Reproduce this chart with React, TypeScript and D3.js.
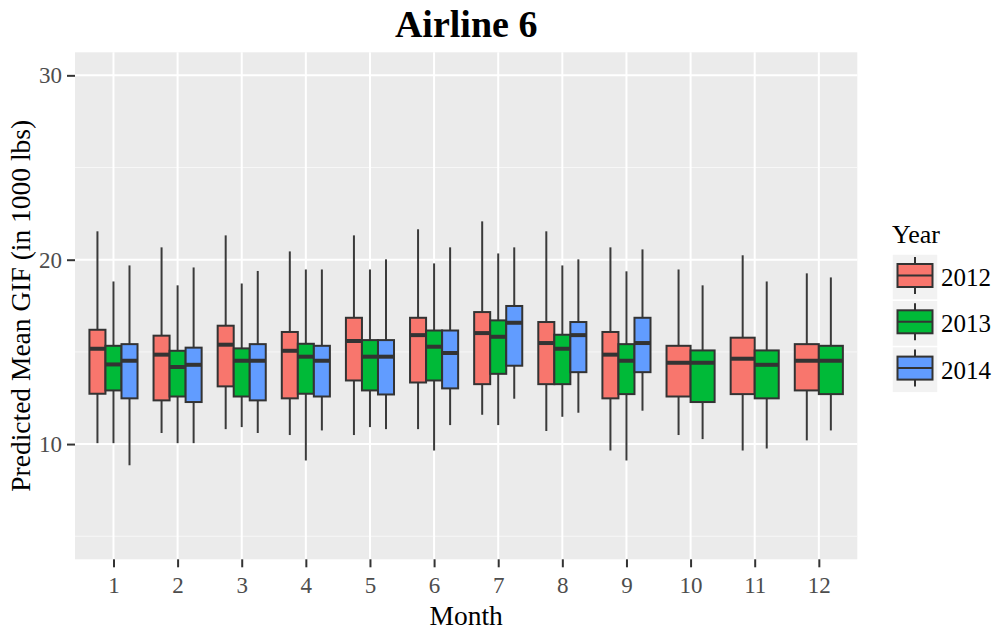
import React, { useEffect, useRef } from 'react';
import * as d3 from 'd3';

// month categories and year groups
const months = ['1', '2', '3', '4', '5', '6', '7', '8', '9', '10', '11', '12'];
const years = ['2012', '2013', '2014'];
const yearColors = ['#F8766D', '#00BA38', '#619CFF'];
const yTicks = [10, 20, 30];
const yMinorTicks = [5, 15, 25];

// [lower whisker, q1, median, q3, upper whisker] per month
const stats2012 = [
    [10.05, 12.73, 15.17, 16.2, 21.54],
    [10.6, 12.37, 14.85, 15.88, 20.67],
    [10.81, 13.13, 15.39, 16.42, 21.32],
    [10.49, 12.48, 15.06, 16.08, 20.45],
    [10.49, 13.45, 15.59, 16.85, 21.32],
    [10.81, 13.34, 15.91, 16.85, 21.65],
    [11.59, 13.25, 16.02, 17.16, 22.08],
    [10.71, 13.25, 15.48, 16.62, 21.54],
    [9.65, 12.48, 14.85, 16.08, 20.67],
    [10.49, 12.58, 14.41, 15.33, 19.47],
    [9.65, 12.71, 14.63, 15.77, 20.24],
    [10.2, 12.91, 14.52, 15.42, 19.26],
];
const stats2013 = [
    [10.05, 12.91, 14.32, 15.33, 18.82],
    [10.05, 12.58, 14.18, 15.06, 18.61],
    [10.92, 12.58, 14.52, 15.19, 18.71],
    [9.11, 12.73, 14.74, 15.44, 19.47],
    [10.92, 12.91, 14.74, 15.64, 19.47],
    [9.65, 13.45, 15.28, 16.16, 19.8],
    [11.03, 13.81, 15.82, 16.71, 20.34],
    [11.48, 13.25, 15.17, 15.93, 19.69],
    [9.11, 12.71, 14.52, 15.42, 19.37],
    [10.27, 12.28, 14.41, 15.08, 18.61],
    [9.76, 12.48, 14.3, 15.08, 18.82],
    [10.74, 12.71, 14.52, 15.33, 19.04],
];
// 2014 only has Jan-Sep
const stats2014 = [
    [8.85, 12.48, 14.52, 15.42, 19.69],
    [10.05, 12.28, 14.3, 15.23, 19.58],
    [10.6, 12.37, 14.52, 15.42, 19.39],
    [10.74, 12.58, 14.52, 15.33, 19.47],
    [10.81, 12.69, 14.74, 15.64, 20.02],
    [11.03, 13.02, 14.94, 16.16, 20.67],
    [12.46, 14.25, 16.58, 17.49, 20.67],
    [11.7, 13.9, 15.91, 16.62, 20.02],
    [11.81, 13.9, 15.48, 16.85, 20.56],
];

const FONT = '"Liberation Serif", "Times New Roman", serif';

export default function App() {
    const svgRef = useRef<SVGSVGElement>(null);

    useEffect(() => {
        document.body.style.margin = '0';
        const width = 996;
        const height = 633;
        const left = 75, right = 857.3, top = 52.3, bottom = 559.3;

        const svg = d3.select(svgRef.current)
            .attr('width', width)
            .attr('height', height);
        svg.selectAll('*').remove();

        const xScale = d3.scalePoint()
            .domain(months)
            .range([left, right])
            .padding(0.6);
        const step = xScale.step();

        const yScale = d3.scaleLinear()
            .domain([3.75, 31.25])
            .range([bottom, top]);

        // panel
        svg.append('rect')
            .attr('x', left).attr('y', top)
            .attr('width', right - left).attr('height', bottom - top)
            .attr('fill', '#EBEBEB');

        svg.append('g').selectAll('line')
            .data(yMinorTicks)
            .join('line')
            .attr('x1', left).attr('x2', right)
            .attr('y1', d => yScale(d)).attr('y2', d => yScale(d))
            .attr('stroke', '#F7F7F7').attr('stroke-width', 1);

        svg.append('g').selectAll('line')
            .data(yTicks)
            .join('line')
            .attr('x1', left).attr('x2', right)
            .attr('y1', d => yScale(d)).attr('y2', d => yScale(d))
            .attr('stroke', '#fff').attr('stroke-width', 2);

        svg.append('g').selectAll('line')
            .data(months)
            .join('line')
            .attr('x1', d => xScale(d)!).attr('x2', d => xScale(d)!)
            .attr('y1', top).attr('y2', bottom)
            .attr('stroke', '#fff').attr('stroke-width', 2);

        // axes
        const yAxis = svg.append('g')
            .attr('transform', `translate(${left},0)`)
            .call(d3.axisLeft(yScale).tickValues(yTicks).tickSize(8).tickPadding(5));
        yAxis.select('.domain').remove();
        yAxis.selectAll('line').attr('stroke', '#333').attr('stroke-width', 2);
        yAxis.selectAll('text')
            .attr('fill', '#4D4D4D')
            .style('font-family', FONT)
            .style('font-size', '23px');

        const xAxis = svg.append('g')
            .attr('transform', `translate(0,${bottom})`)
            .call(d3.axisBottom(xScale).tickSize(8).tickPadding(9));
        xAxis.select('.domain').remove();
        xAxis.selectAll('line').attr('stroke', '#333').attr('stroke-width', 2);
        xAxis.selectAll('text')
            .attr('fill', '#4D4D4D')
            .style('font-family', FONT)
            .style('font-size', '23px');

        // boxes, dodged by year
        const allStats = [stats2012, stats2013, stats2014];
        const boxes: any[] = [];
        months.forEach((m, mi) => {
            const present = allStats.map((s, yi) => ({ s: s[mi], yi })).filter(d => d.s);
            const bw = (step * 0.75) / present.length;
            present.forEach((d, k) => {
                const cx = xScale(m)! - step * 0.375 + (k + 0.5) * bw;
                boxes.push({ cx, bw, v: d.s, color: yearColors[d.yi] });
            });
        });

        const g = svg.append('g');
        const box = g.selectAll('g').data(boxes).join('g');
        box.append('line')
            .attr('x1', d => d.cx).attr('x2', d => d.cx)
            .attr('y1', d => yScale(d.v[0])).attr('y2', d => yScale(d.v[4]))
            .attr('stroke', '#3a3a3a').attr('stroke-width', 2);
        box.append('rect')
            .attr('x', d => d.cx - d.bw / 2)
            .attr('width', d => d.bw)
            .attr('y', d => yScale(d.v[3]))
            .attr('height', d => yScale(d.v[1]) - yScale(d.v[3]))
            .attr('fill', d => d.color)
            .attr('stroke', '#333').attr('stroke-width', 2);
        box.append('line')
            .attr('x1', d => d.cx - d.bw / 2).attr('x2', d => d.cx + d.bw / 2)
            .attr('y1', d => yScale(d.v[2])).attr('y2', d => yScale(d.v[2]))
            .attr('stroke', '#333').attr('stroke-width', 4);

        // titles
        svg.append('text')
            .attr('x', (left + right) / 2).attr('y', 37)
            .attr('text-anchor', 'middle')
            .style('font-family', FONT).style('font-size', '38px').style('font-weight', 'bold')
            .text('Airline 6');

        svg.append('text')
            .attr('x', (left + right) / 2).attr('y', 625)
            .attr('text-anchor', 'middle')
            .style('font-family', FONT).style('font-size', '27.5px')
            .text('Month');

        svg.append('text')
            .attr('transform', `translate(30,${(top + bottom) / 2}) rotate(-90)`)
            .attr('text-anchor', 'middle')
            .style('font-family', FONT).style('font-size', '27.5px')
            .text('Predicted Mean GIF (in 1000 lbs)');

        // legend
        const legend = svg.append('g').attr('transform', 'translate(892,0)');
        legend.append('text')
            .attr('x', 0).attr('y', 243)
            .style('font-family', FONT).style('font-size', '26px')
            .text('Year');
        const keyH = 46.3;
        const keys = legend.selectAll('g.key').data(years).join('g')
            .attr('class', 'key')
            .attr('transform', (d, i) => `translate(0,${254 + i * keyH})`);
        keys.append('rect')
            .attr('x', 0).attr('y', 0).attr('width', 46).attr('height', keyH)
            .attr('fill', '#F2F2F2').attr('stroke', '#fff').attr('stroke-width', 1.5);
        keys.append('line')
            .attr('x1', 23).attr('x2', 23).attr('y1', 3).attr('y2', 40)
            .attr('stroke', '#333').attr('stroke-width', 2);
        keys.append('rect')
            .attr('x', 5.5).attr('y', 10).attr('width', 35).attr('height', 23)
            .attr('fill', (d, i) => yearColors[i])
            .attr('stroke', '#333').attr('stroke-width', 2);
        keys.append('line')
            .attr('x1', 5.5).attr('x2', 40.5).attr('y1', 21.5).attr('y2', 21.5)
            .attr('stroke', '#333').attr('stroke-width', 2);
        keys.append('text')
            .attr('x', 49).attr('y', 32)
            .style('font-family', FONT).style('font-size', '25px')
            .text(d => d);
    }, []);

    return (
        <div>
            <svg ref={svgRef}></svg>
        </div>
    );
}
